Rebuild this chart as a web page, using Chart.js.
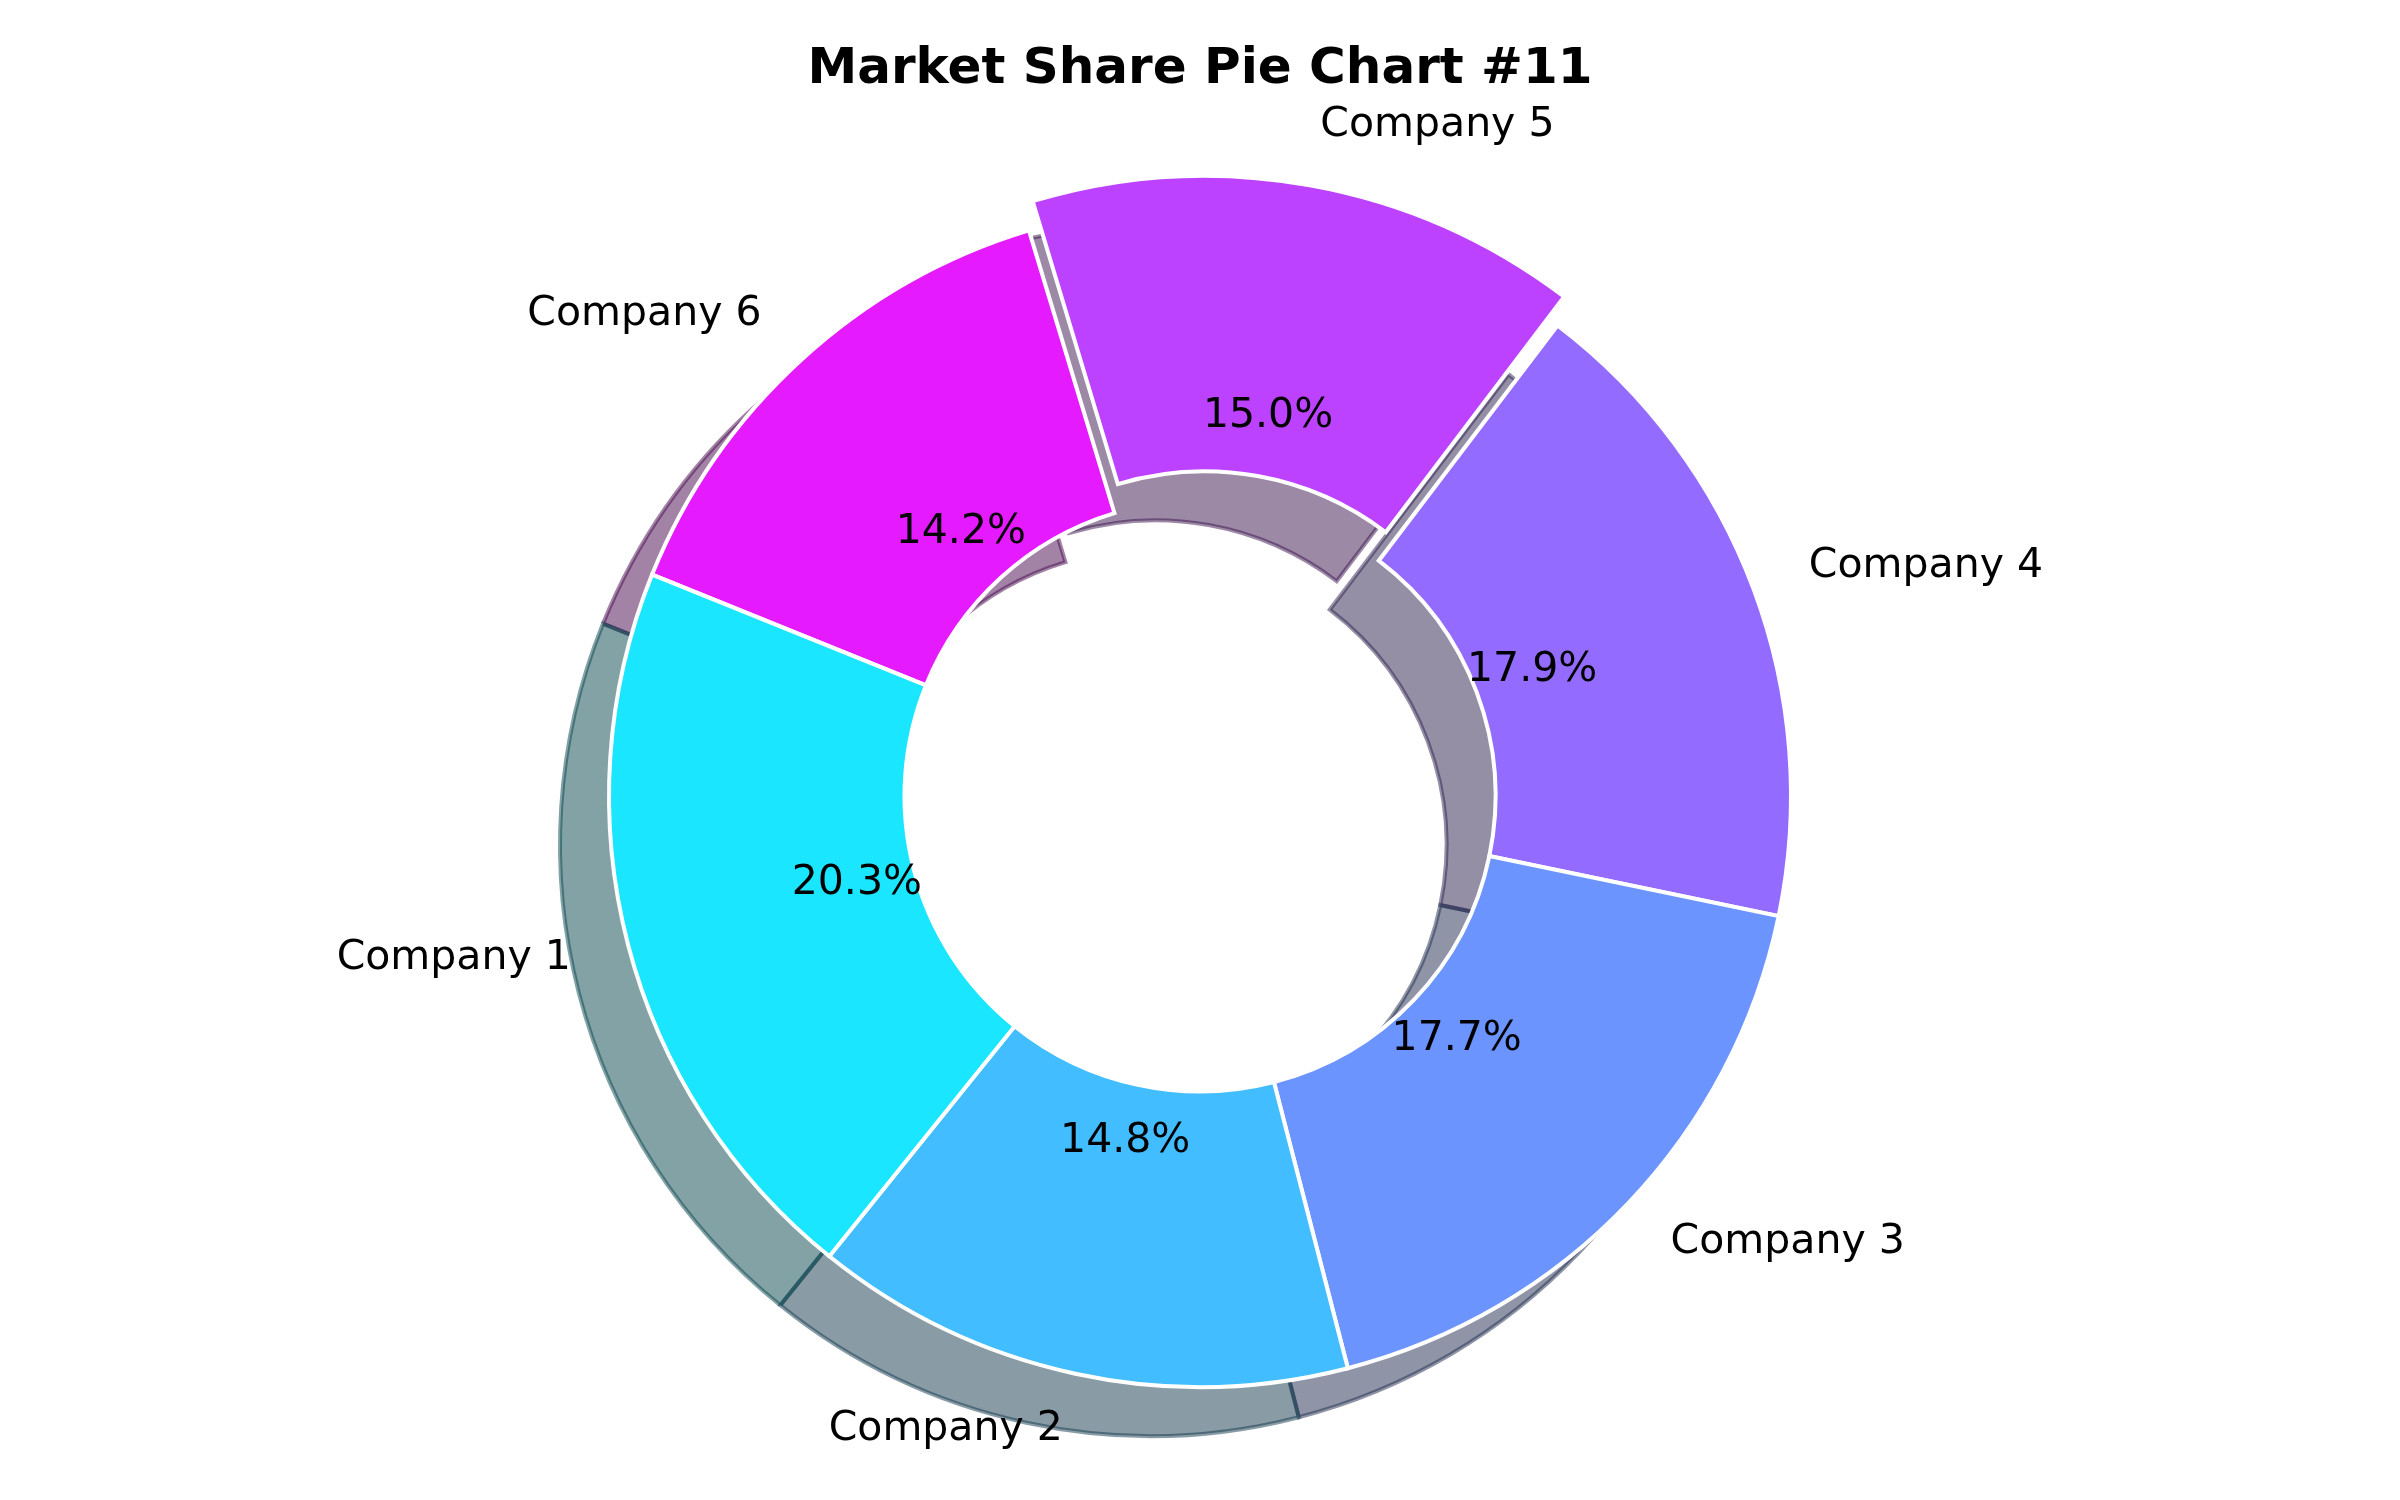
<!DOCTYPE html>
<html>
<head>
<meta charset="utf-8">
<title>Market Share Pie Chart #11</title>
<script src="https://cdn.jsdelivr.net/npm/chart.js@4.4.1/dist/chart.umd.min.js"></script>
<style>
  html, body { margin: 0; padding: 0; background: #fff; }
</style>
</head>
<body>
<canvas id="shareChart" width="2400" height="1500"></canvas>
<script>
// Datos
const companies = ['Company 1', 'Company 2', 'Company 3', 'Company 4', 'Company 5', 'Company 6'];
const shares = [20.3, 14.8, 17.7, 17.9, 15.0, 14.2];
const sliceColors = ['#1ae6ff', '#42bdff', '#6b94ff', '#946bff', '#bd42ff', '#e61aff'];
const explode = [0, 0, 0, 0, 0.05, 0];   // Company 5 separada

const total = shares.reduce((a, b) => a + b, 0);
const RADIUS = 591;
const SHADOW_DX = -49, SHADOW_DY = 49;

// el original va en sentido antihorario; Chart.js en horario -> orden invertido
const order = [5, 4, 3, 2, 1, 0];
const labelsCw = order.map(i => companies[i]);
const dataCw = order.map(i => shares[i]);
const colorsCw = order.map(i => sliceColors[i]);
const offsetsCw = order.map(i => explode[i] * RADIUS * 4 / 1.19);

// sombra: 30% del color, con alfa 0.5
function darker(hex) {
    const n = parseInt(hex.slice(1), 16);
    const r = Math.round(((n >> 16) & 255) * 0.3);
    const g = Math.round(((n >> 8) & 255) * 0.3);
    const b = Math.round((n & 255) * 0.3);
    return `rgb(${r},${g},${b})`;
}
const shadowCw = colorsCw.map(darker);

const pieShadow = {
    id: 'pieShadow',
    beforeDatasetsDraw(chart) {
        const ctx = chart.ctx;
        const meta = chart.getDatasetMeta(0);
        ctx.save();
        ctx.translate(SHADOW_DX, SHADOW_DY);
        ctx.globalAlpha = 0.5;
        meta.data.forEach((arc, i) => {
            const saved = arc.options;
            arc.options = Object.assign({}, saved, { backgroundColor: shadowCw[i], borderColor: shadowCw[i] });
            arc.draw(ctx);
            arc.options = saved;
        });
        ctx.restore();
    }
};

const pieLabels = {
    id: 'pieLabels',
    afterDatasetsDraw(chart) {
        const ctx = chart.ctx;
        const meta = chart.getDatasetMeta(0);
        ctx.save();
        ctx.fillStyle = '#000';
        ctx.font = '41px "DejaVu Sans"';
        ctx.textBaseline = 'alphabetic';
        meta.data.forEach((arc, i) => {
            const k = order[i];
            const mid = (arc.startAngle + arc.endAngle) / 2;
            const cos = Math.cos(mid), sin = Math.sin(mid);
            const shift = explode[k] * arc.outerRadius;
            // nombre fuera del anillo
            const rl = 1.1 * arc.outerRadius + shift;
            ctx.textAlign = cos >= 0 ? 'left' : 'right';
            ctx.fillText(companies[k], arc.x + rl * cos, arc.y + rl * sin + 9);
            // porcentaje
            const rp = 0.6 * arc.outerRadius + shift;
            ctx.textAlign = 'center';
            const pct = (shares[k] / total * 100).toFixed(1) + '%';
            ctx.fillText(pct, arc.x + rp * cos, arc.y + rp * sin + 9);
        });
        ctx.restore();
    }
};

const ctx = document.getElementById('shareChart').getContext('2d');
new Chart(ctx, {
    type: 'doughnut',
    data: {
        labels: labelsCw,
        datasets: [{
            data: dataCw,
            backgroundColor: colorsCw,
            borderColor: '#ffffff',
            borderWidth: 4,
            borderJoinStyle: 'miter',
            offset: offsetsCw
        }]
    },
    options: {
        responsive: false,
        devicePixelRatio: 1,
        animation: false,
        events: [],
        radius: RADIUS,
        cutout: '50%',
        rotation: -68,
        layout: { padding: { top: 0, bottom: 8, left: 0, right: 0 } },
        plugins: {
            legend: { display: false },
            tooltip: { enabled: false },
            title: {
                display: true,
                text: 'Market Share Pie Chart #11',
                color: '#000',
                font: { family: 'DejaVu Sans', size: 50, weight: 'bold' },
                padding: { top: 40, bottom: 0 }
            }
        }
    },
    plugins: [pieShadow, pieLabels]
});
</script>
</body>
</html>
